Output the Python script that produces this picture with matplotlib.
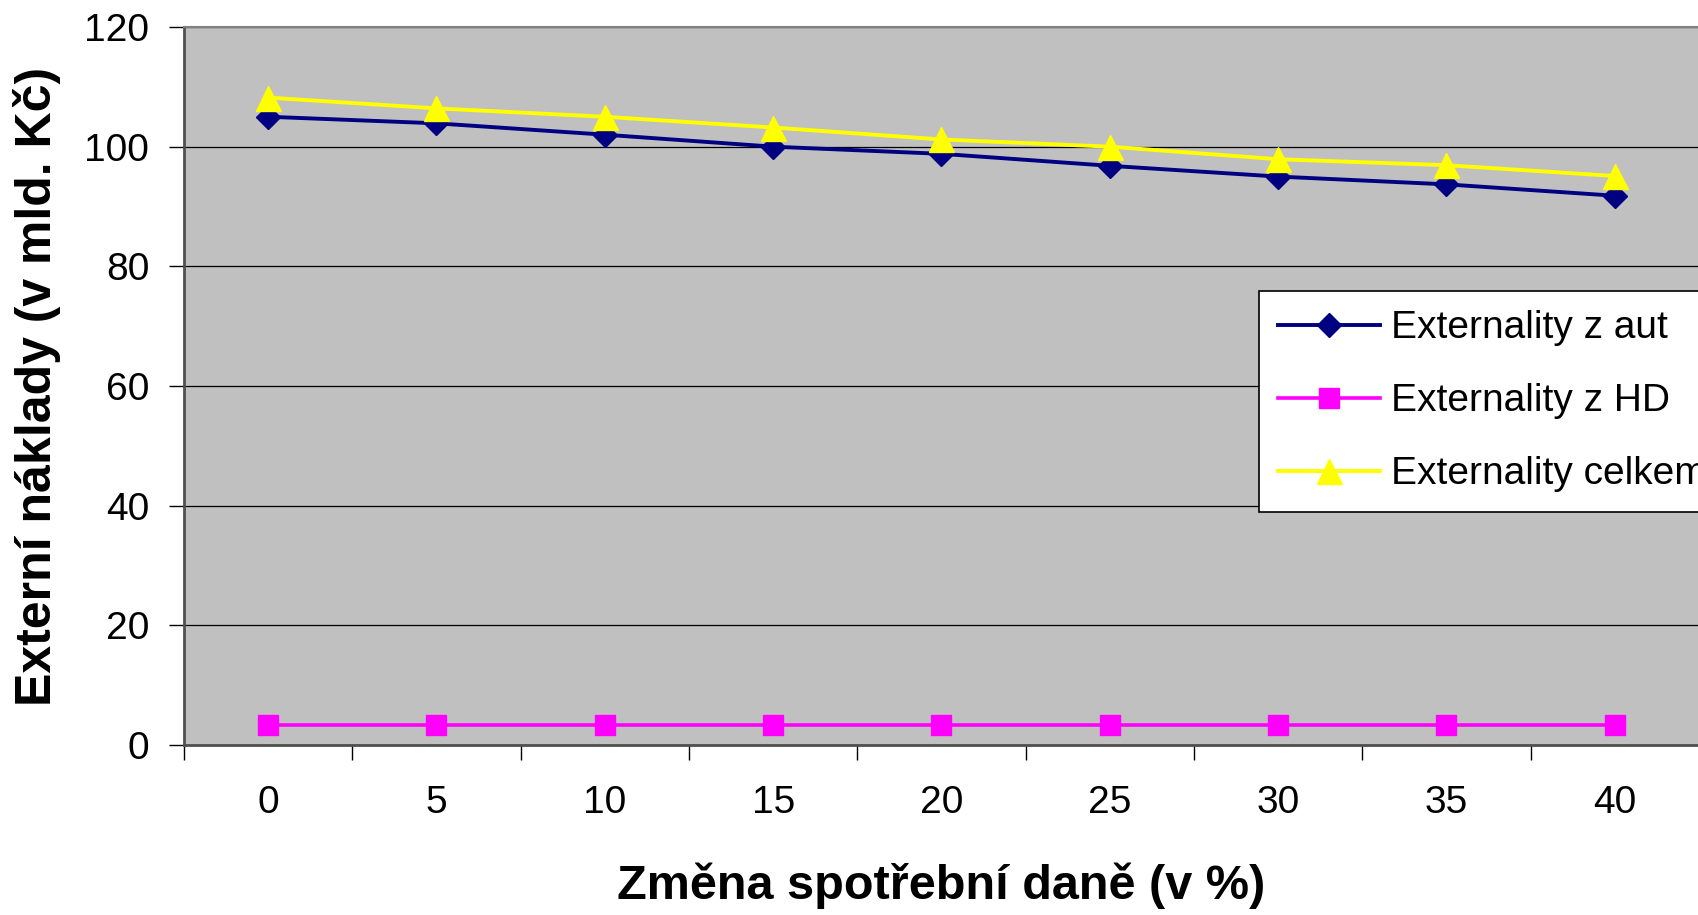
import matplotlib
matplotlib.use("Agg")
import matplotlib.pyplot as plt
import numpy as np

# data
zmena = ["0", "5", "10", "15", "20", "25", "30", "35", "40"]
ext_aut = [105.0, 103.9, 102.0, 100.0, 98.8, 96.8, 95.0, 93.7, 91.8]
ext_hd = [3.3, 3.3, 3.3, 3.3, 3.3, 3.3, 3.3, 3.3, 3.3]
ext_celkem = [108.2, 106.4, 105.0, 103.2, 101.2, 100.0, 97.9, 96.9, 95.1]
y_ticks = [0, 20, 40, 60, 80, 100, 120]

plt.rcParams['font.family'] = ['Liberation Sans', 'DejaVu Sans']

fig = plt.figure(figsize=(16.99, 9.15), dpi=100)
ax = fig.add_axes([184 / 1699, 1 - 745 / 915, 1 - 184 / 1699, (745 - 27) / 915])
ax.set_facecolor('#C0C0C0')

x = np.arange(len(zmena))

ax.plot(x, ext_aut, color='#000080', lw=2.8, marker='D', ms=12.5,
        mec='#000080', label='Externality z aut', zorder=3)
ax.plot(x, ext_hd, color='#FF00FF', lw=2.6, marker='s', ms=15,
        mec='#FF00FF', label='Externality z HD', zorder=3)
ax.plot(x, ext_celkem, color='#FFFF00', lw=2.8, marker='^', ms=18,
        mec='#FFFF00', label='Externality celkem', zorder=4)

ax.set_xlim(-0.5, len(zmena) - 0.5)
ax.set_ylim(0, 120)

# y axis
ax.set_yticks(y_ticks)
ax.tick_params(axis='y', labelsize=28, length=11, width=1, direction='out', pad=14)
ax.yaxis.grid(True, color='black', lw=0.9)
ax.set_axisbelow(True)

# x axis: tick marks between categories, labels at the centres
ax.set_xticks(np.arange(-0.5, len(zmena), 1.0))
ax.set_xticklabels([])
ax.set_xticks(x, minor=True)
ax.set_xticklabels(zmena, minor=True)
ax.tick_params(axis='x', which='major', length=11, width=1, direction='out')
ax.tick_params(axis='x', which='minor', length=0, labelsize=28, pad=29)

for side in ['left', 'bottom']:
    ax.spines[side].set_color('#505050')
    ax.spines[side].set_linewidth(2)
ax.spines['top'].set_color('#808080')
ax.spines['top'].set_linewidth(1.5)
ax.spines['right'].set_visible(False)

ax.set_xlabel('Změna spotřební daně (v %)', fontsize=35, fontweight='bold', labelpad=30)
ax.set_ylabel('Externí náklady (v mld. Kč)', fontsize=36, fontweight='bold', labelpad=17)

leg = ax.legend(loc='upper left', bbox_to_anchor=(1259 / 1699, 1 - 291 / 915),
                bbox_transform=fig.transFigure, fontsize=28, frameon=True,
                fancybox=False, edgecolor='black', framealpha=1,
                handlelength=2.6, handletextpad=0.3, labelspacing=0.95,
                borderpad=0.5, borderaxespad=0)
leg.get_frame().set_linewidth(1.2)

fig.savefig('out.png', dpi=100)
